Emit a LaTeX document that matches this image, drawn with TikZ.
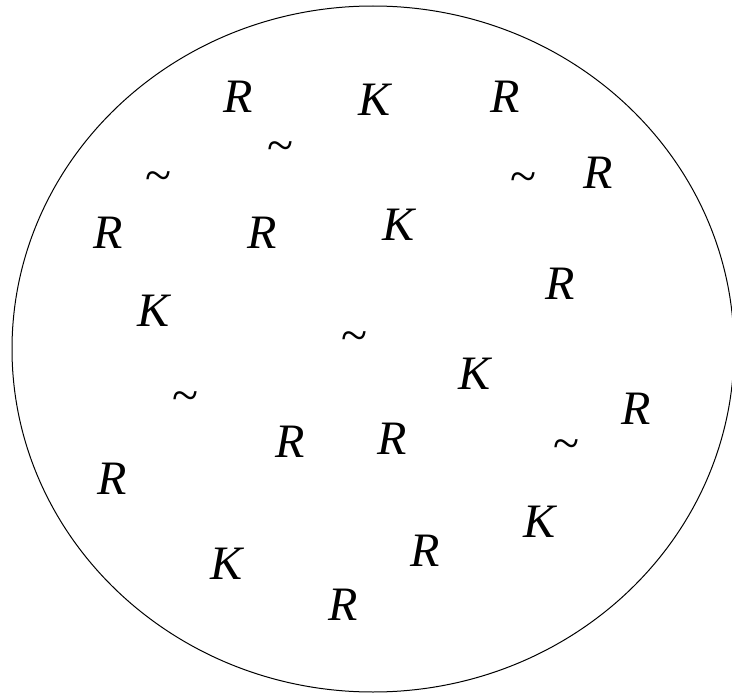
\documentclass[tikz,border=0pt]{standalone}
\usepackage{fontspec}
\setmainfont{Liberation Serif}
\begin{document}
\begin{tikzpicture}[x=1pt,y=-1pt,line cap=round,line join=round]
  \tikzset{letter/.style={inner sep=0pt,anchor=base,font=\fontsize{48}{48}\selectfont\itshape},
           wave/.style={inner sep=0pt,anchor=base,font=\fontsize{48}{48}\selectfont}}
  \useasboundingbox (0,0) rectangle (732,693);
  \draw[line width=1pt] (373,349) ellipse [x radius=361pt, y radius=343pt];
  \node[letter] (r1) at (238,113) {R};
  \node[letter] (k1) at (375,116) {K};
  \node[letter] (r2) at (505,113) {R};
  \node[wave] (t1) at (280,161) {\char`\~};
  \node[wave] (t2) at (158,191) {\char`\~};
  \node[wave] (t3) at (523,193) {\char`\~};
  \node[letter] (r3) at (598,189) {R};
  \node[letter] (r4) at (108,248) {R};
  \node[letter] (r5) at (262,248) {R};
  \node[letter] (k2) at (399,240) {K};
  \node[letter] (r6) at (560,299) {R};
  \node[letter] (k3) at (154,326) {K};
  \node[wave] (t4) at (354,351) {\char`\~};
  \node[letter] (k4) at (475,389) {K};
  \node[wave] (t5) at (185,411) {\char`\~};
  \node[letter] (r7) at (636,424) {R};
  \node[letter] (r8) at (290,457) {R};
  \node[letter] (r9) at (392,454) {R};
  \node[wave] (t6) at (566,459) {\char`\~};
  \node[letter] (r10) at (112,494) {R};
  \node[letter] (k5) at (540,537) {K};
  \node[letter] (k6) at (227,579) {K};
  \node[letter] (r11) at (425,566) {R};
  \node[letter] (r12) at (343,620) {R};
\end{tikzpicture}
\end{document}
